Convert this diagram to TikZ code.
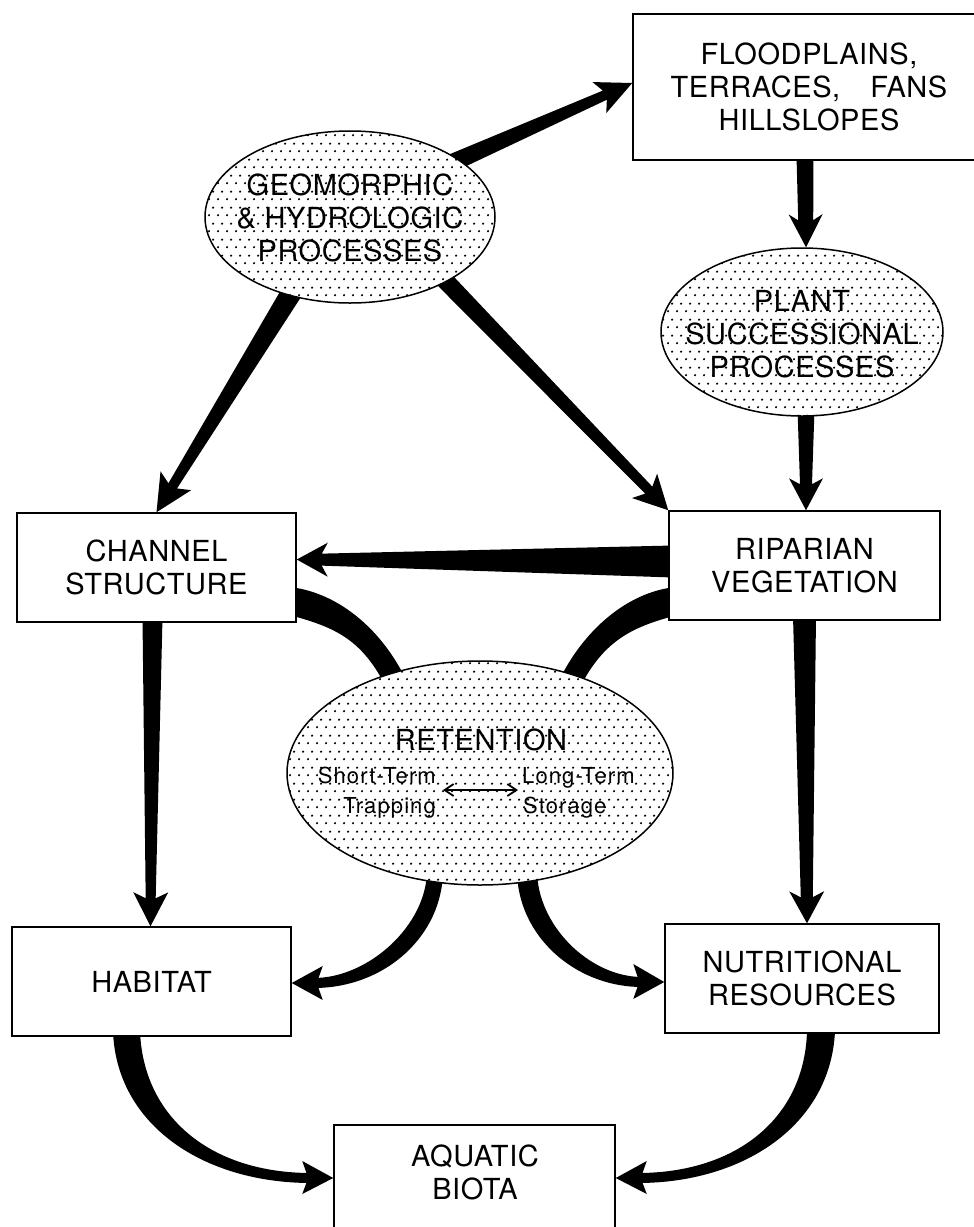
\documentclass[tikz,border=0pt]{standalone}
\usepackage{fontspec}
\setmainfont{TeX Gyre Heros}[LetterSpace=2]
\usetikzlibrary{shapes.geometric,calc,patterns.meta,arrows.meta}
\pgfdeclarelayer{bg}
\pgfdeclarelayer{conn}
\pgfsetlayers{bg,conn,main}

\tikzdeclarepattern{
  name=refdots,
  type=uncolored,
  bottom left={(0pt,0pt)},
  top right={(9pt,16pt)},
  tile size={(9pt,16pt)},
  code={
    \fill (2.25pt,4pt) circle (1.3pt);
    \fill (6.75pt,12pt) circle (1.3pt);
  }
}

\newcommand\mylab{\fontsize{29}{33}\selectfont}
\newcommand\mysml{\fontsize{22}{25}\selectfont\addfontfeature{LetterSpace=5}}

% tapered straight arrow: start, tip, half width at start, half width at head, head length, head half width
\newcommand\tarrow[6]{%
  \coordinate (tA) at #1;
  \coordinate (tB) at #2;
  \coordinate (tH) at ($(tB)!#5!(tA)$);
  \coordinate (tJ) at ($(tB)!#5-6pt!(tA)$);
  \fill ($(tA)!#3!90:(tB)$) -- ($(tJ)!#4!90:(tB)$) -- ($(tH)!#6!90:(tB)$) -- (tB)
     -- ($(tH)!#6!-90:(tB)$) -- ($(tJ)!#4!-90:(tB)$) -- ($(tA)!#3!-90:(tB)$) -- cycle;
}

\begin{document}
\begin{tikzpicture}[x=1pt,y=-1pt,
  box/.style={draw, line width=1.5pt, fill=white, inner sep=0pt, align=center, font=\mylab},
  blob/.style={ellipse, draw, line width=1.5pt, preaction={fill=white}, pattern=refdots, pattern color=black, inner sep=0pt},
  txt/.style={inner sep=0pt, align=center, font=\mylab},
  stxt/.style={inner sep=0pt, font=\mysml}]

\useasboundingbox (0,0) rectangle (974,1227);
\begin{pgfonlayer}{bg}
  \fill[white] (0,0) rectangle (974,1227);
\end{pgfonlayer}

% nodes
\node[box, minimum width=352pt, minimum height=146pt] (flood) at (809,87) {FLOODPLAINS,\\TERRACES,\hspace{30pt}FANS\\HILLSLOPES};
\node[blob, minimum width=290pt, minimum height=172pt] (geo) at (350,217) {};
\node[txt] (geoT) at (350,217.5) {GEOMORPHIC\\\& HYDROLOGIC\\PROCESSES};
\node[blob, minimum width=282pt, minimum height=168pt] (plant) at (802,332) {};
\node[txt] (plantT) at (802,334.5) {PLANT\\SUCCESSIONAL\\PROCESSES};
\node[box, minimum width=279pt, minimum height=109pt] (chan) at (156.5,567.5) {CHANNEL\\STRUCTURE};
\node[box, minimum width=271pt, minimum height=109pt] (rip) at (804.5,565.5) {RIPARIAN\\VEGETATION};
\node[blob, minimum width=386pt, minimum height=224pt] (ret) at (480,773) {};
\node[txt, anchor=base] (retT) at (481,750) {RETENTION};
\node[stxt, anchor=base east] (st) at (436,783) {Short-Term};
\node[stxt, anchor=base east] (tr) at (436,813) {Trapping};
\node[stxt, anchor=base west] (lt) at (522,783) {Long-Term};
\node[stxt, anchor=base west] (sto) at (523,813) {Storage};
\node[box, minimum width=279pt, minimum height=109pt] (hab) at (151.5,981.5) {HABITAT};
\node[box, minimum width=274pt, minimum height=109pt] (nut) at (802,978.5) {NUTRITIONAL\\RESOURCES};
\node[box, minimum width=281pt, minimum height=115pt] (aq) at (474.5,1182.5) {};
\node[txt] (aqT) at (475,1172.5) {AQUATIC\\BIOTA};

% double arrow inside retention
\coordinate (dL) at ($(ret.center)+(-37,17)$);
\coordinate (dR) at ($(ret.center)+(38,17)$);
\draw[line width=1.8pt, {Straight Barb[length=9pt,width=12pt]}-{Straight Barb[length=9pt,width=12pt]}] (dL) -- (dR);

\begin{pgfonlayer}{conn}
  % straight tapered arrows
  \tarrow{($(geo.center)!0.92!(geo.28)$)}{($(flood.west)+(0,-4)$)}{9pt}{5pt}{36pt}{17pt}
  \tarrow{($(flood.south)+(-4,-5)$)}{($(plant.north)+(4,0)$)}{8.5pt}{7.5pt}{33pt}{17pt}
  \tarrow{($(plant.south)+(4,-8)$)}{($(rip.north)+(1.5,0)$)}{8.5pt}{6pt}{32pt}{17pt}
  \tarrow{($(geo.center)!0.92!(geo.-128)$)}{(chan.north)}{10.5pt}{5pt}{37pt}{18pt}
  \tarrow{($(geo.center)!0.92!(geo.-33)$)}{(rip.north west)}{9pt}{5pt}{34pt}{17.5pt}
  \tarrow{($(rip.west)+(5,-4)$)}{($(chan.east)+(0,-8)$)}{16pt}{6pt}{31pt}{17pt}
  \tarrow{($(chan.south)+(-4,-5)$)}{($(hab.north)+(-1,0)$)}{10pt}{5pt}{34pt}{17.5pt}
  \tarrow{($(rip.south)+(0,-5)$)}{($(nut.north)+(5,0)$)}{11.5pt}{6pt}{32pt}{17.5pt}

  % channel structure -- retention band
  \fill ($(chan.east)+(-4,20.5)$) -- ($(chan.east)+(0,20.5)$)
     .. controls +(45,8) and +(-22,-40) .. ($(ret.center)+(-79,-103)$)
     -- ($(ret.center)+(-72,-89)$) -- ($(ret.center)+(-92,-83)$) -- ($(ret.center)+(-100,-97)$)
     .. controls +(-22,-38) and +(35,10) .. ($(chan.east)+(0,49.5)$)
     -- ($(chan.east)+(-4,49.5)$) -- cycle;
  % riparian vegetation -- retention band
  \fill ($(rip.west)+(4,22.5)$) -- ($(rip.west)+(0,22.5)$)
     .. controls +(-45,8) and +(22,-40) .. ($(ret.center)+(84,-102)$)
     -- ($(ret.center)+(77,-88)$) -- ($(ret.center)+(97,-82)$) -- ($(ret.center)+(105,-95)$)
     .. controls +(22,-38) and +(-35,10) .. ($(rip.west)+(0,52)$)
     -- ($(rip.west)+(4,52)$) -- cycle;

  % retention -> habitat
  \fill ($(ret.center)+(-53,97)$) .. controls +(0,55) and +(55,0) .. ($(hab.east)+(22,-3.5)$)
     -- ($(hab.east)+(22,6.5)$) .. controls +(72,0) and +(0,65) .. ($(ret.center)+(-37,97)$) -- cycle;
  \fill ($(hab.east)+(0,1.5)$) -- ++(31,-17) -- ++(-6,17) -- ++(6,17) -- cycle;

  % retention -> nutritional resources
  \fill ($(ret.center)+(57,97)$) .. controls +(0,55) and +(-53,0) .. ($(nut.west)+(-22,-1.5)$)
     -- ($(nut.west)+(-22,8.5)$) .. controls +(-68,0) and +(0,65) .. ($(ret.center)+(37,97)$) -- cycle;
  \fill ($(nut.west)+(0,3.5)$) -- ++(-31,-18) -- ++(6,18) -- ++(-6,17) -- cycle;

  % habitat -> aquatic biota
  \fill ($(hab.south)+(-38.5,-6)$) .. controls +(3,94) and +(-108,0) .. ($(aq.west)+(-22,0.5)$)
     -- ($(aq.west)+(-22,-9.5)$) .. controls +(-101,0) and +(3,86) .. ($(hab.south)+(-11.5,-6)$) -- cycle;
  \fill ($(aq.west)+(0,-4.5)$) -- ++(-31,-17) -- ++(6,17) -- ++(-6,16) -- cycle;

  % nutritional resources -> aquatic biota
  \fill ($(nut.south)+(33,-3)$) .. controls +(-4,94) and +(106,0) .. ($(aq.east)+(22,0.5)$)
     -- ($(aq.east)+(22,-9.5)$) .. controls +(100,0) and +(-2,86) .. ($(nut.south)+(5,-3)$) -- cycle;
  \fill ($(aq.east)+(0,-4.5)$) -- ++(31,-17) -- ++(-6,17) -- ++(6,16) -- cycle;
\end{pgfonlayer}
\end{tikzpicture}
\end{document}
